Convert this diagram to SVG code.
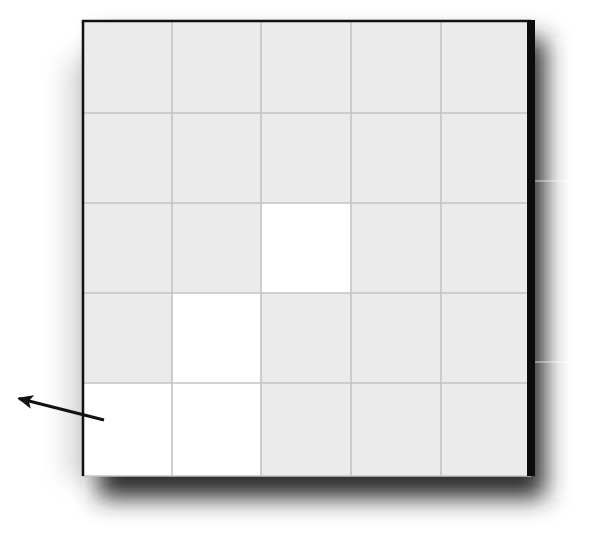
<svg xmlns="http://www.w3.org/2000/svg" width="601" height="543" viewBox="0 0 601 543">
<defs>
<filter id="sh" x="-25%" y="-25%" width="160%" height="160%">
<feGaussianBlur stdDeviation="12"/>
</filter>
<filter id="sh2" x="-100%" y="-20%" width="300%" height="150%">
<feGaussianBlur stdDeviation="12"/>
</filter>
<marker id="ah" markerWidth="16" markerHeight="14" refX="14" refY="7" orient="auto" markerUnits="userSpaceOnUse" viewBox="0 0 16 14">
<path d="M0,0 L16,7 L0,14 L4,7 Z" fill="#111"/>
</marker>
<style>
.c{fill:#ebebeb}
.w{fill:#ffffff}
.g{stroke:#c4c4c4;stroke-width:1.6;fill:none}
.b{stroke:#111;fill:none}
</style>
</defs>
<rect width="601" height="543" fill="#fff"/>
<rect x="98" y="38" width="447" height="460" fill="#2a2a2a" filter="url(#sh)"/>
<rect x="66" y="60" width="30" height="420" fill="#888" opacity="0.3" filter="url(#sh2)"/>
<g id="grid">
<rect x="82" y="21" width="450" height="455" class="c"/>
<rect id="cell-2-2" x="261" y="203" width="90" height="90" class="w"/>
<rect id="cell-1-3" x="172" y="293" width="89" height="90" class="w"/>
<rect id="cell-0-4" x="82" y="383" width="90" height="93" class="w"/>
<rect id="cell-1-4" x="172" y="383" width="89" height="93" class="w"/>
<path class="g" d="M172,21V476M261,21V476M351,21V476M441,21V476M82,113H531M82,203H531M82,293H531M82,383H531M82,476H531"/>
<path class="b" stroke-width="2.5" d="M83,476V21H531"/>
<rect x="527" y="20" width="8" height="456" fill="#0c0c0c"/>
</g>
<path d="M535,181H575M535,362H583" stroke="#fff" stroke-width="1" opacity="0.7"/>
<g id="connectors">
<line x1="104" y1="420" x2="19" y2="398.5" stroke="#111" stroke-width="3" marker-end="url(#ah)"/>
</g>
</svg>
